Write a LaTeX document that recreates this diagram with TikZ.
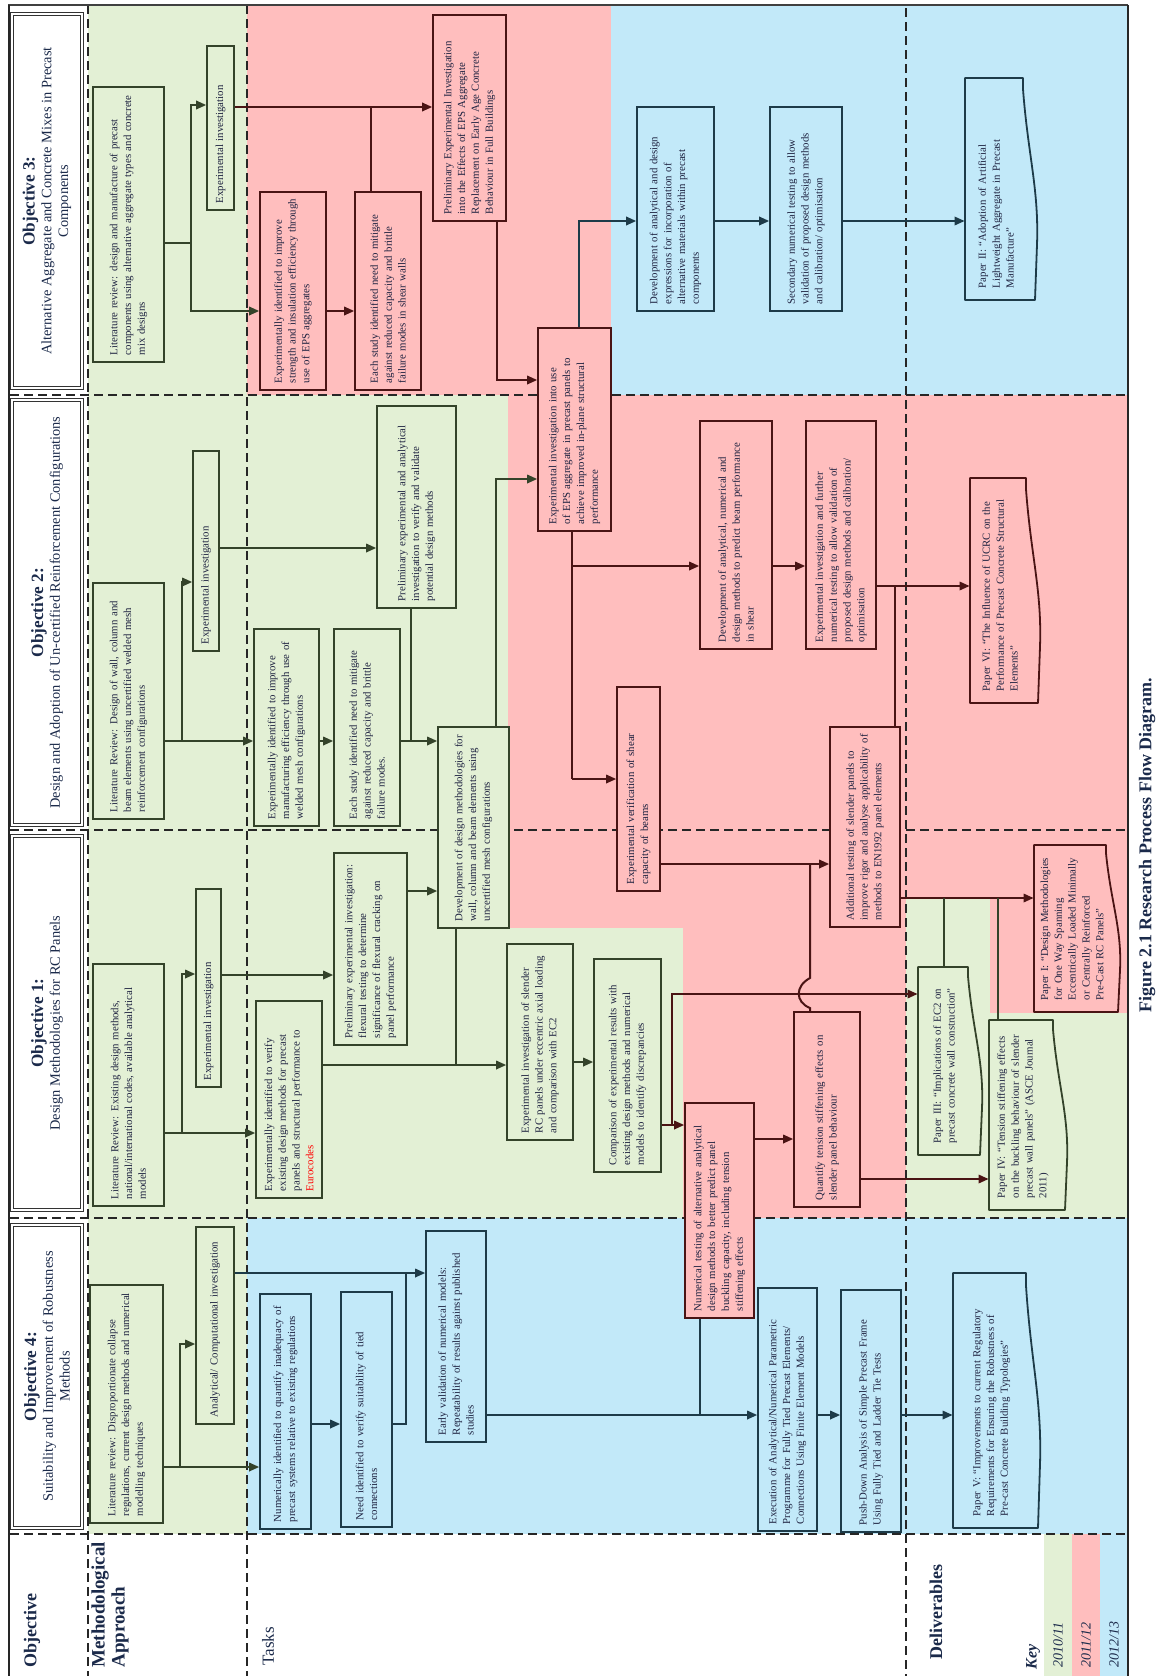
\documentclass[tikz,border=0pt]{standalone}
\usepackage{fontspec}
\setmainfont{Liberation Serif}
\usetikzlibrary{arrows.meta}
\definecolor{gbg}{HTML}{E3F0D5}
\definecolor{rbg}{HTML}{FFBEBE}
\definecolor{bbg}{HTML}{C2E9F9}
\definecolor{gline}{HTML}{34432A}
\definecolor{rline}{HTML}{4A1414}
\definecolor{bline}{HTML}{1D3B49}
\definecolor{txt}{HTML}{1E2240}
\definecolor{hdr}{HTML}{1B2A4A}
\hyphenpenalty=10000
\exhyphenpenalty=10000
\tikzset{
  tbox/.style={draw,line width=0.8pt,inner sep=2pt,align=left,text=txt,font=\fontsize{5.4}{6.9}\selectfont},
  gbox/.style={tbox,draw=gline,fill=gbg},
  rbox/.style={tbox,draw=rline,fill=rbg},
  bbox/.style={tbox,draw=bline,fill=bbg},
  dtext/.style={inner sep=2pt,align=left,text=txt,font=\fontsize{5.4}{6.9}\selectfont},
  hbox/.style={draw=black!80,double,double distance=1pt,line width=0.45pt,fill=white,align=center,text=hdr,font=\fontsize{7.2}{8.4}\selectfont,inner sep=1pt},
  dline/.style={draw=black!85,line width=0.8pt,dash pattern=on 4.5pt off 2.5pt},
  gL/.style={draw=gline,line width=1pt},
  rL/.style={draw=rline,line width=1pt},
  bL/.style={draw=bline,line width=1pt},
  gA/.style={gL,-{Triangle[length=5pt,width=4.2pt]}},
  rA/.style={rL,-{Triangle[length=5pt,width=4.2pt]}},
  bA/.style={bL,-{Triangle[length=5pt,width=4.2pt]}},
  lab/.style={text=hdr,inner sep=0pt},
  every node/.append style={execute at begin node={\hyphenpenalty=10000\exhyphenpenalty=10000}}
}
\newcommand\mybox[7]{%
 \pgfmathsetmacro\bxw{(#5-#4)*0.5}%
 \pgfmathsetmacro\bxh{(#3-#2)*0.5}%
 \pgfmathsetmacro\bxt{(#5-#4)*0.5-7}%
 \node[#6,rotate=90,minimum width=\bxw pt,minimum height=\bxh pt,text width=\bxt pt] (#1) at ({(#2+#3)/2},{(#4+#5)/2}) {#7};%
}
\newcommand\mydoc[8]{%
 \filldraw[draw=#6,fill=#7,line width=0.9pt,line join=round] (#2,#4) -- ({#3-14},#4) -- ({#3-14},{#4+0.05*(#5-#4)}) .. controls ({#3-9},{#4+0.35*(#5-#4)}) and ({#3+2},{#4+0.5*(#5-#4)}) .. (#3,{#4+0.75*(#5-#4)}) -- ({#3-2},#5) -- (#2,#5) -- cycle;%
 \pgfmathsetmacro\bxw{(#5-#4)*0.5}%
 \pgfmathsetmacro\bxh{(#3-#2-10)*0.5}%
 \pgfmathsetmacro\bxt{(#5-#4)*0.5-12}%
 \node[dtext,rotate=90,minimum width=\bxw pt,minimum height=\bxh pt,text width=\bxt pt] (#1) at ({(#2+#3-10)/2},{(#4+#5)/2}) {#8};%
}
\newcommand\myhead[6]{%
 \pgfmathsetmacro\bxw{(#5-#4)*0.5}%
 \pgfmathsetmacro\bxh{(#3-#2)*0.5}%
 \node[hbox,rotate=90,minimum width=\bxw pt,minimum height=\bxh pt] (#1) at ({(#2+#3)/2},{(#4+#5)/2}) {#6};%
}
\newcommand\objt[1]{{\fontsize{8.6}{9}\selectfont\bfseries #1}}
\begin{document}
\begin{tikzpicture}[x=0.5pt,y=-0.5pt]
\useasboundingbox (0,0) rectangle (1159,1676);
% backgrounds
\fill[gbg] (88,5) rectangle (247,1534);
\fill[rbg] (247,5) rectangle (611,395);
\fill[bbg] (611,5) rectangle (1128,395);
\fill[gbg] (247,395) rectangle (508,830);
\fill[rbg] (508,395) rectangle (1128,830);
\fill[gbg] (247,830) rectangle (1128,1218);
\fill[rbg] (508,830) rectangle (906,928);
\fill[rbg] (683,928) rectangle (906,1218);
\fill[rbg] (906,830) rectangle (990,898);
\fill[rbg] (990,830) rectangle (1128,1013);
\fill[bbg] (247,1218) rectangle (1128,1534);
\fill[gbg] (1044,1534) rectangle (1072,1676);
\fill[rbg] (1072,1534) rectangle (1100,1676);
\fill[bbg] (1100,1534) rectangle (1128,1676);
% dashed grid
\foreach \yy in {395,830,1218,1534} \draw[dline] (10,\yy) -- (1128,\yy);
\draw[dline] (88,5) -- (88,1676);
\draw[dline] (247,5) -- (247,1676);
\draw[dline] (906,8) -- (906,1676);
% frame
\draw[black!75,line width=1pt] (8,5) -- (1128,5);
\draw[black!85,line width=0.9pt] (9,5) -- (9,1676);
\draw[black!85,line width=1pt] (1128,5) -- (1128,1676);
% headers
\myhead{H3}{12}{82}{14}{388}{\objt{Objective 3:}\\Alternative Aggregate and Concrete Mixes in Precast\\Components}
\myhead{H2}{12}{82}{400}{825}{\objt{Objective 2:}\\Design and Adoption of Un-certified Reinforcement Configurations}
\myhead{H1}{12}{82}{836}{1210}{\objt{Objective 1:}\\Design Methodologies for RC Panels}
\myhead{H4}{12}{82}{1225}{1528}{\objt{Objective 4:}\\Suitability and Improvement of Robustness\\Methods}
% Objective 3 boxes
\mybox{A3}{93}{164}{87}{362}{gbox}{Literature review: design and manufacture of precast components using alternative aggregate types and concrete mix designs}
\mybox{B3}{207}{234}{46}{210}{gbox}{Experimental investigation}
\mybox{C3}{260}{326}{192}{390}{rbox}{Experimentally identified to improve strength and insulation efficiency through use of EPS aggregates}
\mybox{D3}{355}{421}{192}{390}{rbox}{Each study identified need to mitigate against reduced capacity and brittle failure modes in shear walls}
\mybox{E3}{433}{506}{15}{221}{rbox}{Preliminary Experimental Investigation into the Effects of EPS Aggregate Replacement on Early Age Concrete Behaviour in Full Buildings}
\mybox{F}{538}{611}{328}{531}{rbox}{Experimental investigation into use of EPS aggregate in precast panels to achieve improved in-plane structural performance}
\mybox{G3}{637}{714}{107}{311}{bbox}{Development of analytical and design expressions for incorporation of alternative materials within precast components}
\mybox{H3b}{770}{842}{107}{311}{bbox}{Secondary numerical testing to allow validation of proposed design methods and calibration/ optimisation}
\mydoc{I3}{965}{1037}{78}{300}{bline}{bbg}{Paper II: “Adoption of Artificial Lightweight Aggregate in Precast Manufacture”}
% Objective 2 boxes
\mybox{A2}{93}{164}{583}{819}{gbox}{Literature Review: Design of wall, column and beam elements using uncertified welded mesh reinforcement configurations}
\mybox{B2}{193}{219}{451}{651}{gbox}{Experimental investigation}
\mybox{C2}{254}{319}{629}{826}{gbox}{Experimentally identified to improve manufacturing efficiency through use of welded mesh configurations}
\mybox{D2}{334}{400}{629}{826}{gbox}{Each study identified need to mitigate against reduced capacity and brittle failure modes.}
\mybox{E2}{377}{456}{406}{608}{gbox}{Preliminary experimental and analytical investigation to verify and validate potential design methods}
\mybox{G2}{438}{509}{727}{928}{gbox}{Development of design methodologies for wall, column and beam elements using uncertified mesh configurations}
\mybox{J2}{617}{660}{687}{891}{rbox}{Experimental verification of shear capacity of beams}
\mybox{K2}{700}{772}{421}{649}{rbox}{Development of analytical, numerical and design methods to predict beam performance in shear}
\mybox{L2}{806}{876}{421}{649}{rbox}{Experimental investigation and further numerical testing to allow validation of proposed design methods and calibration/ optimisation}
\mydoc{M2}{970}{1040}{478}{703}{rline}{rbg}{Paper VI: “The Influence of UCRC on the Performance of Precast Concrete Structural Elements”}
\mybox{N}{830}{900}{727}{927}{rbox}{Additional testing of slender panels to improve rigor and analyse applicability of methods to EN1992 panel elements}
% Objective 1 boxes
\mybox{A1}{93}{164}{964}{1206}{gbox}{Literature Review: Existing design methods, national/international codes, available analytical models}
\mybox{B1}{196}{221}{889}{1087}{gbox}{Experimental investigation}
\mybox{D1}{256}{322}{1001}{1198}{gbox}{Experimentally identified to verify existing design methods for precast panels and structural performance to \textcolor{red}{Eurocodes}}
\mybox{E1}{334}{407}{853}{1045}{gbox}{Preliminary experimental investigation: flexural testing to determine significance of flexural cracking on panel performance}
\mybox{F1}{507}{573}{944}{1140}{gbox}{Experimental investigation of slender RC panels under eccentric axial loading and comparison with EC2}
\mybox{G1}{594}{661}{959}{1172}{gbox}{Comparison of experimental results with existing design methods and numerical models to identify discrepancies}
\mybox{P1}{685}{754}{1103}{1318}{rbox}{Numerical testing of alternative analytical design methods to better predict panel buckling capacity, including tension stiffening effects}
\mybox{O1}{794}{860}{1012}{1207}{rbox}{Quantify tension stiffening effects on slender panel behaviour}
\mydoc{Q1}{918}{982}{967}{1155}{gline}{gbg}{Paper III: “Implications of EC2 on precast concrete wall construction”}
\mydoc{R1}{989}{1067}{1020}{1210}{gline}{gbg}{Paper IV: “Tension stiffening effects on the buckling behaviour of slender precast wall panels” (ASCE Journal 2011)}
\mydoc{S1}{1034}{1120}{845}{1012}{rline}{rbg}{Paper I: “Design Methodologies for One Way Spanning Eccentrically Loaded Minimally or Centrally Reinforced Pre-Cast RC Panels”}
% Objective 4 boxes
\mybox{A4}{90}{163}{1285}{1523}{gbox}{Literature review: Disproportionate collapse regulations, current design methods and numerical modelling techniques}
\mybox{B4}{196}{234}{1227}{1424}{gbox}{Analytical/ Computational investigation}
\mybox{C4}{260}{311}{1294}{1529}{bbox}{Numerically identified to quantify inadequacy of precast systems relative to existing regulations}
\mybox{D4}{341}{392}{1292}{1527}{bbox}{Need identified to verify suitability of tied connections}
\mybox{E4}{426}{486}{1231}{1442}{bbox}{Early validation of numerical models: Repeatability of results against published studies}
\mybox{F4}{758}{817}{1288}{1531}{bbox}{Execution of Analytical/Numerical Parametric Programme for Fully Tied Precast Elements/ Connections Using Finite Element Models}
\mybox{G4}{841}{901}{1290}{1532}{bbox}{Push-Down Analysis of Simple Precast Frame Using Fully Tied and Ladder Tie Tests}
\mydoc{H4}{953}{1040}{1273}{1528}{bline}{bbg}{Paper V: “Improvements to current Regulatory Requirements for Ensuring the Robustness of Pre-cast Concrete Building Typologies”}
% connectors Objective 3
\draw[gL] (A3.south |- 0,243) -- (191,243);
\draw[gA] (191,243) |- (B3.north |- 0,105);
\draw[gA] (191,243) |- (C3.north |- 0,311);
\draw[rA] (C3.south |- 0,311) -- (D3.north |- 0,311);
\draw[rA] (B3.south |- 0,107) -- (E3.north |- 0,107);
\draw[rL] (371,0 |- D3.east) -- (371,107);
\draw[rA] (497,0 |- E3.west) |- (F.north |- 0,380);
\draw[bA] (579,0 |- F.east) |- (G3.north |- 0,221);
\draw[bA] (G3.south |- 0,221) -- (H3b.north |- 0,221);
\draw[bA] (H3b.south |- 0,221) -- (I3.north |- 0,221);
% connectors Objective 2
\draw[gL] (A2.south |- 0,741) -- (182,741);
\draw[gA] (182,741) |- (B2.north |- 0,582);
\draw[gA] (182,741) -- (C2.north |- 0,741);
\draw[gA] (C2.south |- 0,741) -- (D2.north |- 0,741);
\draw[gA] (B2.south |- 0,548) -- (E2.north |- 0,548);
\draw[gL] (411,0 |- E2.west) -- (411,741);
\draw[gA] (D2.south |- 0,741) -- (G2.north |- 0,741);
\draw[gA] (E1.south |- 0,891) -- (G2.north |- 0,891);
\draw[gA] (496,0 |- G2.east) |- (F.north |- 0,479);
\draw[rL] (572,0 |- F.west) -- (572,779);
\draw[rA] (572,779) -- (J2.north |- 0,779);
\draw[rA] (572,566) -- (K2.north |- 0,566);
\draw[rA] (K2.south |- 0,566) -- (L2.north |- 0,566);
\draw[rA] (L2.south |- 0,586) -- (M2.north |- 0,586);
\draw[rL] (895,0 |- N.east) -- (895,586);
\draw[rA] (J2.south |- 0,864) -- (N.north |- 0,864);
% connectors Objective 1
\draw[gL] (A1.south |- 0,1133) -- (182,1133);
\draw[gA] (182,1133) |- (B1.north |- 0,974);
\draw[gA] (182,1133) -- (D1.north |- 0,1133);
\draw[gA] (B1.south |- 0,975) -- (E1.north |- 0,975);
\draw[gA] (D1.south |- 0,1065) -- (F1.north |- 0,1065);
\draw[gL] (456,0 |- G2.west) -- (456,1065);
\draw[gA] (F1.south |- 0,1062) -- (G1.north |- 0,1062);
\draw[rA] (G1.south |- 0,1125) -- (P1.north |- 0,1125);
\draw[rA] (672,1125) |- (Q1.north |- 0,994);
\draw[rL] (810,0 |- O1.east) -- (810,1008) .. controls (795,1002) and (795,986) .. (810,978) -- (810,864);
\draw[rA] (P1.south |- 0,1139) -- (O1.north |- 0,1139);
\draw[rA] (O1.south |- 0,1179) -- (R1.north |- 0,1179);
\draw[rA] (N.south |- 0,898) -- (S1.north |- 0,898);
\draw[gL] (944,0 |- Q1.east) -- (944,898);
\draw[gL] (998,0 |- R1.east) -- (998,898);
% connectors Objective 4
\draw[gL] (A4.south |- 0,1467) -- (180,1467);
\draw[gA] (180,1467) |- (B4.north |- 0,1344);
\draw[gA] (180,1467) -- (C4.north |- 0,1467);
\draw[bA] (C4.south |- 0,1424) -- (D4.north |- 0,1424);
\draw[bA] (B4.south |- 0,1273) -- (E4.north |- 0,1273);
\draw[bL] (D4.south |- 0,1424) -| (406,1273);
\draw[bA] (E4.south |- 0,1415) -- (F4.north |- 0,1415);
\draw[bL] (700,0 |- P1.west) -- (700,1415);
\draw[bA] (F4.south |- 0,1415) -- (G4.north |- 0,1415);
\draw[bA] (G4.south |- 0,1415) -- (H4.north |- 0,1415);
% labels
\node[lab,rotate=90,anchor=west,font=\bfseries\fontsize{9}{10}\selectfont] (lObj) at (32,1668) {Objective};
\node[lab,rotate=90,anchor=west,align=left,font=\bfseries\fontsize{9.5}{10}\selectfont] (lMeth) at (110,1668) {Methodological\\Approach};
\node[lab,rotate=90,anchor=west,font=\fontsize{8.5}{9}\selectfont] (lTask) at (268,1666) {Tasks};
\node[lab,rotate=90,anchor=west,font=\bfseries\fontsize{9}{10}\selectfont] (lDel) at (936,1660) {Deliverables};
\node[lab,rotate=90,anchor=west,font=\bfseries\itshape\fontsize{8}{9}\selectfont] (lKey) at (1033,1670) {Key};
\node[lab,rotate=90,anchor=west,font=\itshape\fontsize{7}{8}\selectfont] (k1) at (1058,1668) {2010/11};
\node[lab,rotate=90,anchor=west,font=\itshape\fontsize{7}{8}\selectfont] (k2) at (1086,1668) {2011/12};
\node[lab,rotate=90,anchor=west,font=\itshape\fontsize{7}{8}\selectfont] (k3) at (1114,1668) {2012/13};
\node[lab,rotate=90,font=\bfseries\fontsize{9}{10}\selectfont] (cap) at (1147,845) {Figure 2.1 Research Process Flow Diagram.};
\end{tikzpicture}
\end{document}
